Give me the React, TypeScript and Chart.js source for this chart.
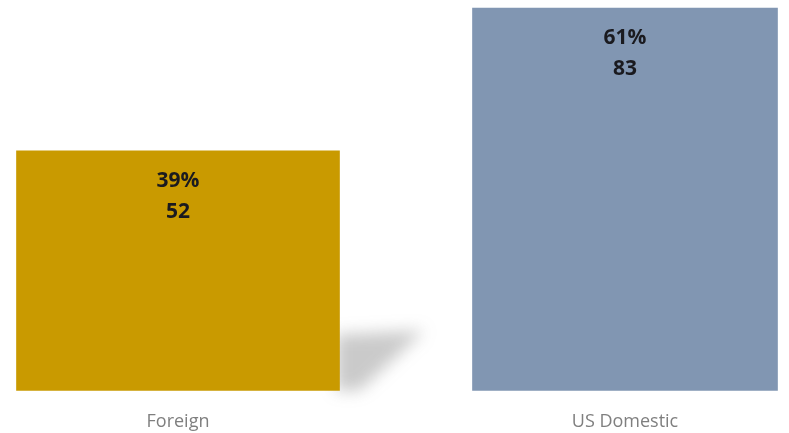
import React, { useEffect, useRef } from "react";
import { Chart, registerables } from "chart.js";

Chart.register(...registerables);

const categories = ["Foreign", "US Domestic"];
const values = [52, 83];
const percentLabels = ["39%", "61%"];
const barColors = ["#C99A00", "#8196B2"];
const barWidths = [323, 305];

const shadowPlugin = {
  id: "barShadow",
  beforeDatasetsDraw(chart: any) {
    const meta = chart.getDatasetMeta(0);
    const el = meta.data[0];
    if (!el) return;
    const { x, base, width } = el.getProps(["x", "base", "width"], true);
    const right = x + width / 2;
    const ctx = chart.ctx;
    ctx.save();
    ctx.filter = "blur(8px)";
    ctx.fillStyle = "rgba(90,90,90,0.32)";
    ctx.beginPath();
    ctx.moveTo(right - 4, base);
    ctx.lineTo(right - 4, base - 56);
    ctx.lineTo(right + 85, base - 60);
    ctx.lineTo(right + 20, base);
    ctx.closePath();
    ctx.fill();
    ctx.restore();
  },
};

const labelPlugin = {
  id: "barLabels",
  afterDatasetsDraw(chart: any) {
    const ctx = chart.ctx;
    chart.data.datasets.forEach((ds: any, di: number) => {
      const meta = chart.getDatasetMeta(di);
      meta.data.forEach((el: any, i: number) => {
        const v = ds.data[i];
        if (v === null || v === undefined) return;
        const { x, y } = el.getProps(["x", "y"], true);
        ctx.save();
        ctx.fillStyle = "#1a1a1f";
        ctx.font = "bold 21px 'Open Sans'";
        ctx.textAlign = "center";
        ctx.textBaseline = "middle";
        ctx.fillText(percentLabels[i], x, y + 30);
        ctx.fillText(String(v), x, y + 61);
        ctx.restore();
      });
    });
  },
};

export default function App() {
  const ref = useRef<HTMLCanvasElement>(null);
  useEffect(() => {
    document.body.style.margin = "0";
    const chart = new Chart(ref.current!, {
      type: "bar",
      data: {
        labels: categories,
        datasets: categories.map((_, di) => ({
          label: categories[di],
          data: values.map((v, i) => (i === di ? v : null)),
          backgroundColor: barColors[di],
          barThickness: barWidths[di],
          skipNull: true,
          clip: false as any,
        })),
      },
      options: {
        responsive: false,
        animation: false,
        layout: { padding: { left: 178, right: 164, top: 8, bottom: -21 } },
        plugins: { legend: { display: false }, tooltip: { enabled: false } },
        scales: {
          x: {
            offset: false,
            grid: { display: false, drawTicks: false },
            border: { display: false },
            ticks: {
              color: "#7f7f7f",
              font: { family: "'Open Sans'", size: 18 },
              padding: 21,
              maxRotation: 0,
              autoSkip: false,
            },
          },
          y: { display: false, min: 0, max: 83 },
        },
      },
      plugins: [shadowPlugin, labelPlugin],
    });
    return () => chart.destroy();
  }, []);
  return (
    <div style={{ width: 789, height: 433, background: "#fff" }}>
      <canvas ref={ref} width={789} height={433} />
    </div>
  );
}
